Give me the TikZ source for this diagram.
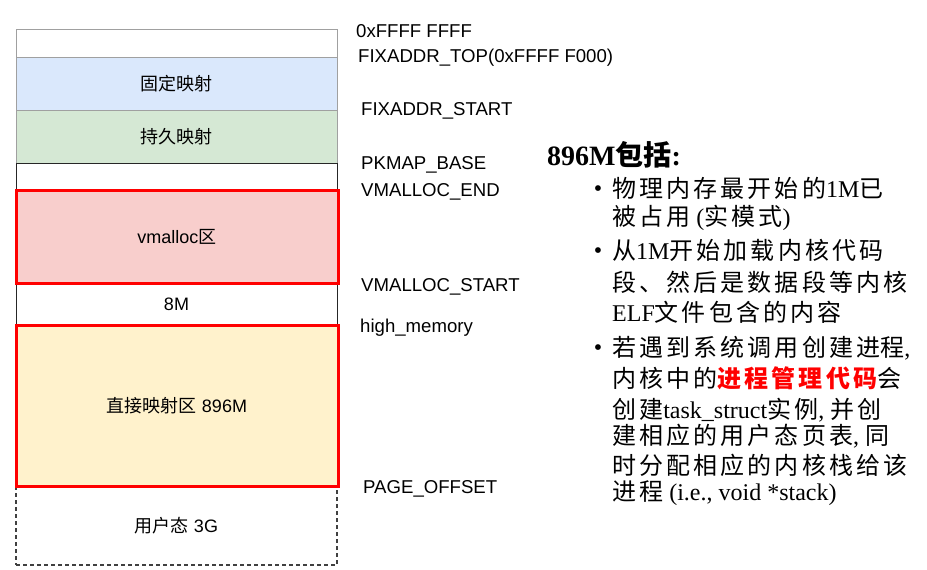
\documentclass[tikz,border=0pt]{standalone}
\usepackage{fontspec}
\setmainfont{Liberation Sans}
\newfontfamily\cjk{Noto Sans CJK SC}
\newfontfamily\notefont{Liberation Serif}
\newfontfamily\zhfont[LetterSpace=13]{Noto Sans CJK SC}
\usetikzlibrary{positioning}
\definecolor{fixblue}{HTML}{DAE8FC}
\definecolor{kmapgreen}{HTML}{D5E8D4}
\definecolor{vmpink}{HTML}{F8CECC}
\definecolor{lowyellow}{HTML}{FFF2CC}
\definecolor{boxgray}{RGB}{160,160,160}
\definecolor{hotred}{RGB}{255,0,0}
\newcommand{\zh}[1]{{\zhfont #1}}
\tikzset{
    memblk/.style={draw=boxgray, line width=1pt, minimum width=321pt, anchor=north west,
        inner sep=0pt, outer sep=0pt, font=\fontsize{18}{22}\selectfont},
    hotblk/.style={memblk, draw=hotred, line width=3pt},
    addr/.style={anchor=west, inner sep=0pt, font=\fontsize{18.6}{22}\selectfont,
        text height=13.5pt, text depth=0pt},
    note/.style={anchor=west, inner sep=0pt, font=\notefont\fontsize{24}{28}\selectfont,
        text height=19pt, text depth=4pt},
    dot/.style={inner sep=0pt, font=\notefont\fontsize{24}{28}\selectfont},
}

\begin{document}
\begin{tikzpicture}[x=1pt, y=-1pt]
    \useasboundingbox (0,0) rectangle (927,570);

    % kernel space column
    \node[memblk, minimum height=28pt] (top) at (16,29) {};
    \node[memblk, fill=fixblue, minimum height=53pt] (fixmap) at (16,57) {\cjk 固定映射};
    \node[memblk, fill=kmapgreen, minimum height=53pt] (pkmap) at (16,110) {\cjk 持久映射};
    \node[memblk, draw=black!85, line width=0.8pt, minimum height=27pt] (gap) at (16,163) {};
    \node[memblk, draw=black!85, line width=0.8pt, minimum height=42pt] (guard) at (16,283) {8M};
    \node[memblk, draw=black!75, dashed, dash pattern=on 4pt off 3pt, line width=1.2pt,
        minimum height=79pt] (user) at (16,486) {{\cjk 用户态} 3G};
    \node[hotblk, fill=vmpink, minimum width=322pt, minimum height=93pt] (vmalloc) at (16,190) {vmalloc{\cjk 区}};
    \node[hotblk, fill=lowyellow, minimum width=322pt, minimum height=161pt] (direct) at (16,325)
        {{\cjk 直接映射区} 896M};

    % address marks
    \node[addr] (a0) at (356,31) {0xFFFF FFFF};
    \node[addr] (a1) at (358,56) {FIXADDR\_TOP(0xFFFF F000)};
    \node[addr] (a2) at (361,109) {FIXADDR\_START};
    \node[addr] (a3) at (361,163) {PKMAP\_BASE};
    \node[addr] (a4) at (361,190) {VMALLOC\_END};
    \node[addr] (a5) at (361,285) {VMALLOC\_START};
    \node[addr] (a6) at (360,326) {high\_memory};
    \node[addr] (a7) at (363,487) {PAGE\_OFFSET};

    % what the 896M holds
    \node[anchor=west, inner sep=0pt, font=\notefont\bfseries\fontsize{28}{32}\selectfont] (head)
        at (547,155) {896M{\cjk\bfseries 包括}:};
    \node[dot] (b1) at (598,191) {\textbullet};
    \node[dot] (b2) at (598,253) {\textbullet};
    \node[dot] (b3) at (598,350) {\textbullet};
    \node[note] (n1) at (612,190) {\zh{物理内存最开始的}1M\zh{已}};
    \node[note] (n2) at (612,218) {\zh{被占用} (\zh{实模式})};
    \node[note] (n3) at (612,252) {\zh{从}1M\zh{开始加载内核代码}};
    \node[note] (n4) at (612,284) {\zh{段、然后是数据段等内核}};
    \node[note] (n5) at (612,314) {ELF\zh{文件包含的内容}};
    \node[note] (n6) at (612,349) {\zh{若遇到系统调用创建进}{\cjk 程},};
    \node[note] (n7) at (612,380) {\zh{内核中的}\textcolor{hotred}{\zhfont\bfseries 进程管理代码}\zh{会}};
    \node[note] (n8) at (612,411) {\zh{创建}task\_struct\zh{实例}, \zh{并创}};
    \node[note] (n9) at (612,437) {\zh{建相应的用户态页表}, \zh{同}};
    \node[note] (n10) at (612,467) {\zh{时分配相应的内核栈给该}};
    \node[note] (n11) at (612,493) {\zh{进程} (i.e., void *stack)};
\end{tikzpicture}
\end{document}
